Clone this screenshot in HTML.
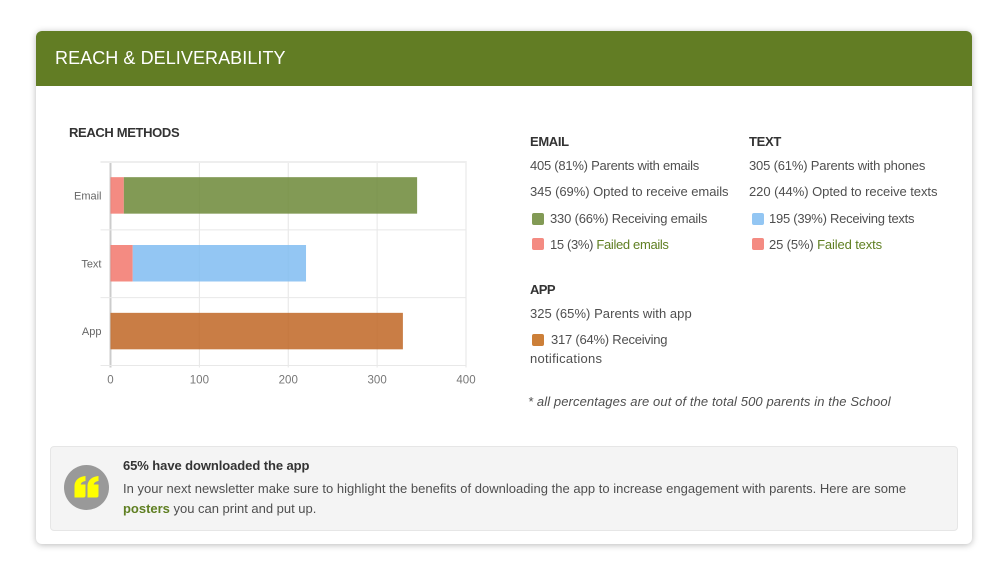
<!DOCTYPE html>
<html lang="en"><head><meta charset="utf-8"><title>Reach &amp; Deliverability</title>
<style>
html,body{margin:0;padding:0;width:1000px;height:581px;overflow:hidden;background:#fff;font-family:"Liberation Sans",sans-serif;color:#4a4a4a}
*{box-sizing:border-box}
.card{position:absolute;left:36px;top:31px;width:936px;height:513px;background:#fff;border-radius:6px;box-shadow:0 1px 7px rgba(0,0,0,.28)}
.head{position:absolute;left:36px;top:31px;width:936px;height:55px;background:#627d24;border-radius:6px 6px 0 0}
.t{position:absolute;white-space:nowrap;font-size:13px;line-height:16px;color:#4f4f4f}
.h{font-weight:bold;color:#333;font-size:13px}
.g{color:#5f7f22}
.sw{position:absolute;width:12px;height:12px;border-radius:2px}
.box{position:absolute;left:50px;top:446px;width:908px;height:85px;background:#f4f4f4;border:1px solid #e6e6e6;border-radius:4px}
.circle{position:absolute;left:64px;top:465px;width:45px;height:45px;border-radius:50%;background:#999}
svg{position:absolute;left:0;top:0}
</style></head><body>
<div class="card"></div>
<div class="head"></div>
<div class="t" style="left:55px;top:46px;font-size:18px;line-height:24px;color:#fff;letter-spacing:.07px">REACH &amp; DELIVERABILITY</div>
<div class="t h" style="left:69px;top:125px;letter-spacing:-.35px">REACH METHODS</div>
<svg id="chart" width="1000" height="581"></svg>

<div class="t h" style="left:530px;top:134px;letter-spacing:-.35px">EMAIL</div>
<div class="t" style="left:530px;top:158px;letter-spacing:-.25px">405 (81%) Parents with emails</div>
<div class="t" style="left:530px;top:184px;letter-spacing:-.05px">345 (69%) Opted to receive emails</div>
<div class="sw" style="left:532px;top:213px;background:#829a55"></div>
<div class="t" style="left:550px;top:211px;letter-spacing:-.18px">330 (66%) Receiving emails</div>
<div class="sw" style="left:532px;top:238px;background:#f48b82"></div>
<div class="t" style="left:550px;top:237px;letter-spacing:-.34px">15 (3%) <span class="g">Failed emails</span></div>

<div class="t h" style="left:749px;top:134px;letter-spacing:-.3px">TEXT</div>
<div class="t" style="left:749px;top:158px;letter-spacing:-.18px">305 (61%) Parents with phones</div>
<div class="t" style="left:749px;top:184px;letter-spacing:-.05px">220 (44%) Opted to receive texts</div>
<div class="sw" style="left:752px;top:213px;background:#93c6f3"></div>
<div class="t" style="left:769px;top:211px;letter-spacing:-.26px">195 (39%) Receiving texts</div>
<div class="sw" style="left:752px;top:238px;background:#f48b82"></div>
<div class="t" style="left:769px;top:237px;letter-spacing:-.13px">25 (5%) <span class="g">Failed texts</span></div>

<div class="t h" style="left:530px;top:282px;letter-spacing:-.6px">APP</div>
<div class="t" style="left:530px;top:306px;letter-spacing:.05px">325 (65%) Parents with app</div>
<div class="sw" style="left:532px;top:334px;background:#cc7f38"></div>
<div class="t" style="left:551px;top:332px;letter-spacing:-.23px">317 (64%) Receiving</div>
<div class="t" style="left:530px;top:351px;letter-spacing:.28px">notifications</div>
<div class="t" style="left:528px;top:394px;font-style:italic;letter-spacing:.1px">* all percentages are out of the total 500 parents in the School</div>

<div class="box"></div>
<div class="circle"></div>
<svg width="1000" height="581"><path d="M74.5 497.5V486c0-5.5 4.500-9.500 11-10v5c-3 .5-4.500 1.800-4.800 3.500H85.500V495.500a2 2 0 0 1-2 2Z" fill="#ffff00"/><path d="M87.500 497.500V486c0-5.500 4.500-9.500 11-10v5c-3 .5-4.500 1.800-4.800 3.500H98.500V495.500a2 2 0 0 1-2 2Z" fill="#ffff00"/></svg>
<div class="t h" style="left:123px;top:458px;letter-spacing:-.08px">65% have downloaded the app</div>
<div class="t" style="left:123px;top:481px;letter-spacing:.02px">In your next newsletter make sure to highlight the benefits of downloading the app to increase engagement with parents. Here are some</div>
<div class="t" style="left:123px;top:501px;letter-spacing:-.01px"><b class="g">posters</b> you can print and put up.</div>

<script>
var categories = ['Email', 'Text', 'App'];
var failedValues = [15, 25, 0];
var receivingValues = [330, 195, 329];
var receivingColors = ['#6c8837', '#80bcf1', '#c06624'];
var xTicks = [0, 100, 200, 300, 400];

var NS = 'http://www.w3.org/2000/svg';
var svg = document.getElementById('chart');
var plotLeft = 110.5, plotRight = 466, plotTop = 162, plotBottom = 365.5;
var bandHeight = (plotBottom - plotTop) / categories.length;
var barHeight = 36.5;
function xScale(v) { return plotLeft + v * (plotRight - plotLeft) / xTicks[xTicks.length - 1]; }
function bandTop(i) { return plotTop + i * bandHeight; }
function add(tag, attrs) {
  var el = document.createElementNS(NS, tag);
  for (var k in attrs) { el.setAttribute(k, attrs[k]); }
  svg.appendChild(el);
  return el;
}
xTicks.forEach(function (t) {
  var line = add('line', { x1: xScale(t), x2: xScale(t), y1: plotTop - 1, y2: plotBottom + 2, stroke: t === 0 ? '#cccccc' : '#e6e6e6', 'stroke-width': t === 0 ? 2 : 1 });
  
  
  var label = add('text', { x: xScale(t), y: plotBottom + 18, 'text-anchor': 'middle', 'font-size': 11.5, fill: '#777', 'font-family': 'Liberation Sans, sans-serif' });
  label.textContent = t;
  
  
});
for (var g = 0; g <= categories.length; g++) {
  var rule = add('line', { x1: plotLeft - 10, x2: plotRight, y1: bandTop(g), y2: bandTop(g), stroke: g === 0 ? '#eeeeee' : '#e8e8e8', 'stroke-width': g === 0 ? 2 : 1 });
  
  
}
categories.forEach(function (c, i) {
  var y = bandTop(i) + (bandHeight - barHeight) / 2 - 0.5;
  var label = add('text', { x: plotLeft - 9, y: y + barHeight / 2 + 4, 'text-anchor': 'end', 'font-size': 11, fill: '#666', 'font-family': 'Liberation Sans, sans-serif' });
  label.textContent = c;
  
  
  var failed = failedValues[i], receiving = receivingValues[i];
  if (failed > 0) {
    var fb = add('rect', { x: xScale(0), y: y, width: xScale(failed) - xScale(0), height: barHeight, fill: '#f2776c', 'fill-opacity': 0.85 });
    
    
  }
  var rb = add('rect', { x: xScale(failed), y: y, width: xScale(failed + receiving) - xScale(failed), height: barHeight, fill: receivingColors[i], 'fill-opacity': 0.85 });
  
  
});
</script>
</body></html>
